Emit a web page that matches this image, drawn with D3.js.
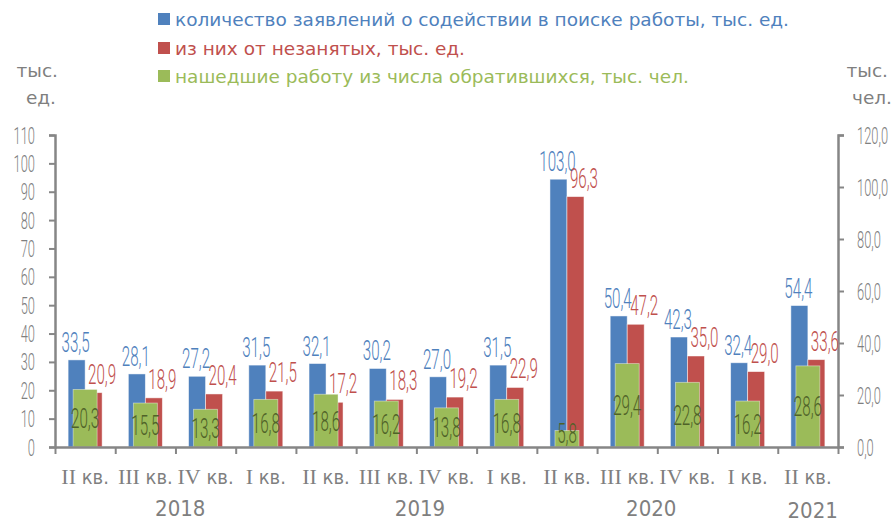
<!DOCTYPE html>
<html>
<head>
<meta charset="utf-8">
<script src="https://cdn.jsdelivr.net/npm/d3@7"></script>
<style>
  html, body { margin: 0; padding: 0; background: #ffffff; }
  svg { display: block; }
</style>
</head>
<body>
<svg id="chart" width="894" height="522"></svg>
<script>
// ---- data ----
const quarterRoman = ["II", "III", "IV", "I", "II", "III", "IV", "I", "II", "III", "IV", "I", "II"];
const quarterSuffix = " кв.";
const applications = [33.5, 28.1, 27.2, 31.5, 32.1, 30.2, 27.0, 31.5, 103.0, 50.4, 42.3, 32.4, 54.4];
const unemployed = [20.9, 18.9, 20.4, 21.5, 17.2, 18.3, 19.2, 22.9, 96.3, 47.2, 35.0, 29.0, 33.6];
const foundJob = [20.3, 15.5, 13.3, 16.8, 18.6, 16.2, 13.8, 16.8, 5.8, 29.4, 22.8, 16.2, 28.6];
const years = ["2018", "2019", "2020", "2021"];
const leftTicks = [0, 10, 20, 30, 40, 50, 60, 70, 80, 90, 100, 110];
const rightTicks = [0, 20, 40, 60, 80, 100, 120];
const legendLabels = [
  "количество заявлений о содействии в поиске работы, тыс. ед.",
  "из них от незанятых, тыс. ед.",
  "нашедшие работу из числа обратившихся, тыс. чел."
];

// ---- layout / style ----
const yearAt = [2.08, 6.06, 9.9, 12.58];   // label anchor, in category units
const colors = { blue: "#4F81BD", red: "#C0504D", green: "#9BBB59", greenText: "#4F6228" };
const axisColor = "#868686", textGray = "#7f7f7f";
const plot = { left: 55, right: 838, top: 135, bottom: 447 };
const sansFont = "'DejaVu Sans Condensed', 'DejaVu Sans', sans-serif";
const narrowFont = "Roboto, 'Liberation Sans Narrow', sans-serif";
const narrowScale = 0.56;

const svg = d3.select("#chart");
const n = quarterRoman.length;

const xBand = d3.scaleBand().domain(d3.range(n)).range([plot.left, plot.right]).padding(0);
const xLin = d3.scaleLinear().domain([0, n]).range([plot.left, plot.right]);
const yRight = d3.scaleLinear().domain([0, 120]).range([plot.bottom, plot.top]);
const yLeft = d3.scaleLinear().domain([0, 110]).range([plot.bottom, plot.top]);

const bw = 17, gw = 24;

// bars
const gBars = svg.append("g");
gBars.selectAll("rect.blue").data(applications).join("rect")
  .attr("class", "blue")
  .attr("x", (d, i) => xBand(i) + xBand.bandwidth() / 2 - bw)
  .attr("width", bw)
  .attr("y", d => yRight(d))
  .attr("height", d => plot.bottom - yRight(d))
  .attr("fill", colors.blue)
  .attr("stroke", "#ffffff").attr("stroke-opacity", 0.6).attr("stroke-width", 0.8);

gBars.selectAll("rect.red").data(unemployed).join("rect")
  .attr("class", "red")
  .attr("x", (d, i) => xBand(i) + xBand.bandwidth() / 2)
  .attr("width", bw)
  .attr("y", d => yRight(d))
  .attr("height", d => plot.bottom - yRight(d))
  .attr("fill", colors.red)
  .attr("stroke", "#ffffff").attr("stroke-opacity", 0.6).attr("stroke-width", 0.8);

gBars.selectAll("rect.green").data(foundJob).join("rect")
  .attr("class", "green")
  .attr("x", (d, i) => xBand(i) + xBand.bandwidth() / 2 - gw / 2)
  .attr("width", gw)
  .attr("y", d => yLeft(d))
  .attr("height", d => plot.bottom - yLeft(d))
  .attr("fill", colors.green)
  .attr("stroke", "#ffffff").attr("stroke-opacity", 0.5).attr("stroke-width", 0.8);

// axes
const fmtComma1 = d => d.toFixed(1).replace(".", ",");

function styleAxis(g) {
  g.select(".domain").attr("stroke", axisColor).attr("stroke-width", 2.5);
  g.selectAll(".tick line").attr("stroke", axisColor).attr("stroke-width", 2);
}

const gLeft = svg.append("g").attr("transform", `translate(${plot.left},0)`)
  .call(d3.axisLeft(yLeft).tickValues(leftTicks).tickSize(6).tickSizeOuter(6).tickFormat(d => String(d)));
styleAxis(gLeft);
gLeft.selectAll(".tick text")
  .attr("x", null).attr("dy", null)
  .attr("transform", `translate(-20,8) scale(${narrowScale},1)`)
  .attr("text-anchor", "end")
  .attr("fill", textGray)
  .style("font-family", narrowFont).style("font-weight", 300).style("font-size", "23px");

const gRight = svg.append("g").attr("transform", `translate(${plot.right},0)`)
  .call(d3.axisRight(yRight).tickValues(rightTicks).tickSize(6).tickSizeOuter(6).tickFormat(fmtComma1));
styleAxis(gRight);
gRight.selectAll(".tick text")
  .attr("x", null).attr("dy", null)
  .attr("transform", `translate(19,8) scale(${narrowScale},1)`)
  .attr("text-anchor", "start")
  .attr("fill", textGray)
  .style("font-family", narrowFont).style("font-weight", 300).style("font-size", "23px");

const gBottom = svg.append("g").attr("transform", `translate(0,${plot.bottom})`)
  .call(d3.axisBottom(xLin).tickValues(d3.range(0, n + 1)).tickSize(7).tickSizeOuter(0).tickFormat(""));
styleAxis(gBottom);

// category labels
const catLabels = svg.append("g").selectAll("text").data(quarterRoman).join("text")
  .attr("x", (d, i) => xBand(i) + xBand.bandwidth() / 2)
  .attr("y", 484)
  .attr("text-anchor", "middle")
  .attr("fill", textGray)
  .style("font-size", "20px");
catLabels.append("tspan").style("font-family", "'Liberation Serif', serif").style("font-size", "22px").text(d => d);
catLabels.append("tspan").style("font-family", sansFont).text(quarterSuffix);

// year labels
svg.append("g").selectAll("text").data(years).join("text")
  .attr("x", (d, i) => xLin(yearAt[i]))
  .attr("y", (d, i) => i === years.length - 1 ? 518 : 516)
  .attr("text-anchor", "middle")
  .attr("fill", textGray)
  .style("font-family", sansFont).style("font-size", "22px")
  .text(d => d);

// value labels
function valueLabels(data, cls, xf, yf, color) {
  svg.append("g").selectAll("text." + cls).data(data).join("text")
    .attr("class", cls)
    .attr("transform", (d, i) => `translate(${xf(d, i)},${yf(d, i)}) scale(${narrowScale},1)`)
    .attr("text-anchor", "middle")
    .attr("fill", color)
    .style("font-family", narrowFont).style("font-weight", 300).style("font-size", "27px")
    .text(d => fmtComma1(d));
}
const center = i => xBand(i) + xBand.bandwidth() / 2;
valueLabels(applications, "lb", (d, i) => center(i) - bw / 2 - 1, d => yRight(d) - 8, colors.blue);
valueLabels(unemployed, "lr", (d, i) => center(i) + bw, d => yRight(d) - 9, colors.red);
valueLabels(foundJob, "lg", (d, i) => center(i),
  d => Math.min((yLeft(d) + plot.bottom) / 2 + 10, plot.bottom - 4), colors.greenText);

// legend
const legendColors = [colors.blue, colors.red, colors.green];
const legendY = [13, 42, 70];
const lg = svg.append("g");
legendLabels.forEach((t, i) => {
  lg.append("rect").attr("x", 158).attr("y", legendY[i]).attr("width", 12).attr("height", 12).attr("fill", legendColors[i]);
  lg.append("text").attr("x", 175).attr("y", legendY[i] + 13)
    .attr("fill", legendColors[i])
    .style("font-family", "'DejaVu Sans', sans-serif").style("font-size", "18.5px")
    .text(t);
});

// axis unit titles
const unitTitles = [
  { t: "тыс.", x: 58, y: 77 }, { t: "ед.", x: 56, y: 104 },
  { t: "тыс.", x: 888, y: 77 }, { t: "чел.", x: 892, y: 104 }
];
svg.append("g").selectAll("text").data(unitTitles).join("text")
  .attr("x", d => d.x).attr("y", d => d.y)
  .attr("text-anchor", "end")
  .attr("fill", textGray)
  .style("font-family", "'DejaVu Sans', sans-serif").style("font-size", "18.5px")
  .text(d => d.t);
</script>
</body>
</html>
